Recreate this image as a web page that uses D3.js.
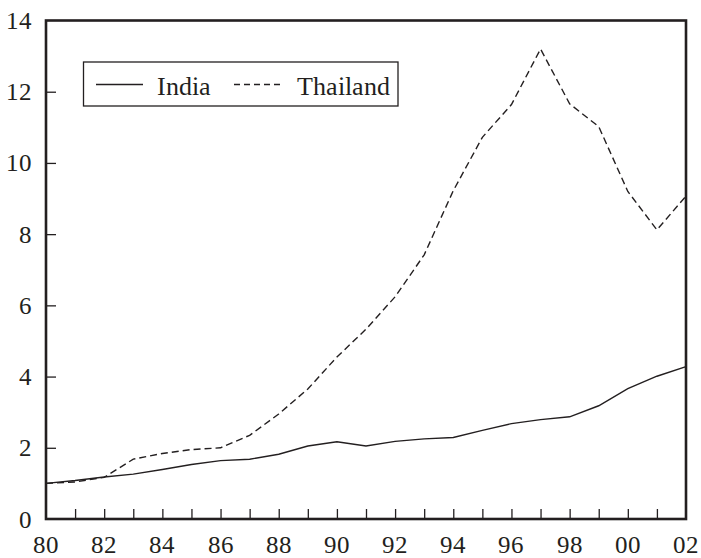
<!DOCTYPE html>
<html>
<head>
<meta charset="utf-8">
<script src="https://cdn.jsdelivr.net/npm/d3@7"></script>
<style>
  @font-face {
    font-family: "ChartSerif";
    src: local("Liberation Serif"), local("LiberationSerif"), local("LiberationSerif-Regular"), local("Times New Roman");
  }
  body { margin: 0; background: #fff; }
</style>
</head>
<body>
<script>
const years = d3.range(1980, 2003);
const india = [1.0, 1.08, 1.18, 1.26, 1.39, 1.53, 1.64, 1.68, 1.82, 2.05, 2.17, 2.05, 2.18, 2.25, 2.29, 2.49, 2.68, 2.79, 2.87, 3.18, 3.66, 4.01, 4.28];
const thailand = [1.0, 1.04, 1.17, 1.68, 1.84, 1.95, 2.0, 2.35, 2.95, 3.65, 4.55, 5.33, 6.24, 7.42, 9.22, 10.72, 11.64, 13.2, 11.66, 11.02, 9.2, 8.12, 9.07];
const yTicks = [0, 2, 4, 6, 8, 10, 12, 14];
const xLabelYears = d3.range(1980, 2003, 2);
const series = [
  { name: "India", values: india, dash: null },
  { name: "Thailand", values: thailand, dash: "7,4" },
];

const width = 701, height = 558;
const margin = { left: 46, right: 15, top: 20.5, bottom: 39 };
const ink = "#231f20";
const serif = '"ChartSerif", "FreeSerif", "Liberation Serif", monospace';

const x = d3.scaleLinear().domain([1980, 2002]).range([margin.left, width - margin.right]);
const y = d3.scaleLinear().domain([0, 14]).range([height - margin.bottom, margin.top]);

const svg = d3.select("body").append("svg")
  .attr("width", width)
  .attr("height", height)
  .attr("font-family", serif);

// inner ticks
const xAxis = svg.append("g")
  .attr("transform", `translate(0,${y(0)})`)
  .call(d3.axisTop(x).tickValues(years.slice(1, -1)).tickSize(10).tickFormat(""));
const yAxis = svg.append("g")
  .attr("transform", `translate(${x(1980)},0)`)
  .call(d3.axisRight(y).tickValues(yTicks.slice(1, -1)).tickSize(10).tickFormat(""));
[xAxis, yAxis].forEach((g) => {
  g.select(".domain").remove();
  g.selectAll("line").attr("stroke", ink).attr("stroke-width", 1.3);
});

// tick labels
svg.append("g").selectAll("text")
  .data(xLabelYears)
  .join("text")
  .attr("x", (d) => x(d))
  .attr("y", 553)
  .attr("text-anchor", "middle")
  .attr("font-family", serif)
  .attr("font-size", 25)
  .attr("fill", ink)
  .text((d) => String(d % 100).padStart(2, "0"));
svg.append("g").selectAll("text")
  .data(yTicks)
  .join("text")
  .attr("x", 32)
  .attr("y", (d) => y(d) + 8.5)
  .attr("text-anchor", "end")
  .attr("font-family", serif)
  .attr("font-size", 25)
  .attr("fill", ink)
  .text((d) => d);

// lines
const line = d3.line()
  .x((d, i) => x(years[i]))
  .y((d) => y(d));
svg.append("g").selectAll("path")
  .data(series)
  .join("path")
  .attr("d", (s) => line(s.values))
  .attr("fill", "none")
  .attr("stroke", ink)
  .attr("stroke-width", 1.4)
  .attr("stroke-dasharray", (s) => s.dash);

// frame
svg.append("rect")
  .attr("x", x(1980))
  .attr("y", y(14))
  .attr("width", x(2002) - x(1980))
  .attr("height", y(0) - y(14))
  .attr("fill", "none")
  .attr("stroke", ink)
  .attr("stroke-width", 2.6);

// legend
const legend = svg.append("g");
legend.append("rect")
  .attr("x", 83.5).attr("y", 62)
  .attr("width", 314.5).attr("height", 44)
  .attr("fill", "#fff")
  .attr("stroke", ink)
  .attr("stroke-width", 1.3);
const legendItems = [
  { s: series[0], x0: 96, x1: 143, tx: 157 },
  { s: series[1], x0: 234, x1: 283, tx: 297 },
];
legendItems.forEach((it) => {
  legend.append("line")
    .attr("x1", it.x0).attr("x2", it.x1)
    .attr("y1", 84.5).attr("y2", 84.5)
    .attr("stroke", ink)
    .attr("stroke-width", 1.4)
    .attr("stroke-dasharray", it.s.dash ? "6,4" : null);
  legend.append("text")
    .attr("x", it.tx).attr("y", 94.5)
    .attr("font-family", serif)
    .attr("font-size", 26)
    .attr("fill", ink)
    .text(it.s.name);
});
</script>
</body>
</html>
